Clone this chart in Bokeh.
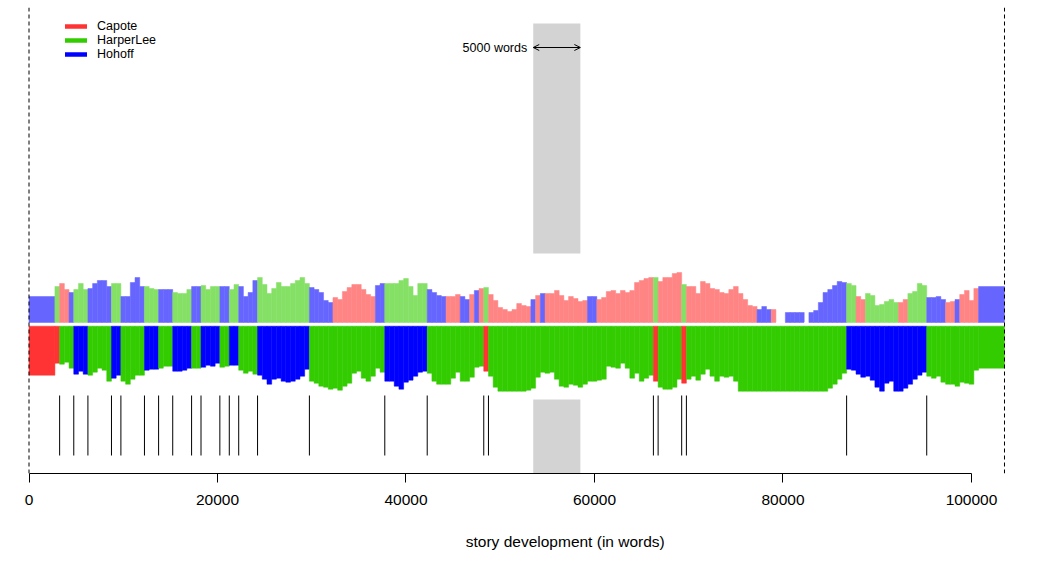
import numpy as np
from bokeh.plotting import figure
from bokeh.models import (ColumnDataSource, Range1d, FixedTicker, PrintfTickFormatter,
                          Span, Label, Arrow, OpenHead, Legend, LegendItem, LinearAxis)
from bokeh.embed import file_html
from bokeh.resources import INLINE

# ---------------- data ----------------
authors = {"C": "Capote", "H": "HarperLee", "W": "Hohoff"}
legend_order = ["C", "H", "W"]
text_length = 103500          # words
slice_size = 5000
slice_step = 500
first_mid = 2500
x_ticks = [0, 20000, 40000, 60000, 80000, 100000]
x_title = "story development (in words)"
marked_slice = [53500, 58500]
marked_text = "5000 words"

# first-ranked candidate per slice (C = Capote, H = HarperLee, W = Hohoff)
first_choice = ("CCHHHWWWHH" "HHHWWHHHHH" "WWWHHHWWWW" "HHWWWWHHWW" "HHHHWWWWWW"
                "WWWWWHHHHH" "HHHHHHHHHH" "HWWWWWWWWW" "HHHHHHHHHH" "HHCHHHHHHH"
                "HHHHHHHHHH" "HHHHHHHHHH" "HHHHHHHHCH" "HHHHCHHHHH" "HHHHHHHHHH"
                "HHHHHHHHHH" "HHHHHHHHHW" "WWWWWWWWWW" "WWWWWWHHHH" "HHHHHHHH")
# second-ranked candidate per slice ("-" = none)
second_choice = ("WHCCWHHHWW" "WWWHHWWWWW" "HHHWWWHHHH" "WWHHHHWWHH" "WWWWHHHHHH"
                 "HHHHHWWWWW" "CCCCCCCCCW" "WHHHHHHHHH" "WWWWCCCWWC" "WCHCCCCCCC"
                 "CCWCWCCCCC" "CCCCWWCCCC" "CCCCCCCCHC" "CCCCHCCCCC" "CCCCCCCCCC"
                 "WWWC--WWWW" "-WWWWWWWWH" "HCCHHHHHHH" "CCHHHHWWWW" "CCWCCCCW")
# strength of the first choice (drawn downwards)
first_score = [49, 37, 38, 36, 42, 48, 45, 48, 49, 46,
               42, 44, 55, 52, 49, 55, 58, 53, 49, 49,
               44, 43, 43, 42, 40, 40, 45, 45, 44, 42,
               42, 42, 41, 39, 40, 37, 41, 40, 39, 39,
               44, 47, 45, 48, 49, 53, 58, 53, 52, 55,
               56, 55, 53, 50, 43, 55, 57, 60, 61, 63,
               62, 64, 60, 57, 47, 45, 52, 55, 50, 42,
               46, 55, 55, 60, 63, 56, 54, 50, 46, 45,
               47, 55, 58, 58, 58, 52, 46, 55, 55, 51,
               41, 40, 45, 50, 61, 65, 65, 65, 65, 65,
               65, 64, 62, 51, 46, 47, 46, 53, 60, 61,
               58, 59, 61, 58, 55, 55, 54, 53, 40, 41,
               42, 37, 42, 52, 47, 55, 52, 49, 55, 61,
               63, 63, 61, 53, 57, 53, 50, 54, 48, 43,
               50, 55, 50, 51, 50, 55, 65, 65, 65, 65,
               65, 65, 65, 65, 65, 65, 65, 65, 65, 65,
               65, 65, 65, 65, 65, 62, 58, 53, 47, 43,
               44, 48, 51, 50, 54, 61, 65, 57, 55, 65,
               65, 62, 58, 53, 49, 46, 50, 52, 50, 56,
               58, 58, 60, 56, 57, 58, 44, 42]
# strength of the second choice (drawn upwards)
second_score = [26, 36, 39, 33, 30, 33, 39, 33, 34, 39,
                42, 42, 36, 39, 39, 26, 26, 40, 45, 36,
                36, 34, 33, 33, 33, 33, 30, 29, 29, 33,
                36, 36, 37, 33, 36, 36, 36, 36, 33, 38,
                36, 26, 30, 42, 45, 38, 29, 34, 40, 36,
                36, 39, 42, 45, 39, 35, 33, 30, 22, 20,
                25, 23, 31, 35, 38, 38, 33, 28, 26, 37,
                39, 39, 39, 39, 42, 44, 36, 27, 39, 39,
                33, 30, 27, 26, 26, 26, 28, 26, 23, 28,
                32, 34, 35, 28, 22, 15, 13, 11, 13, 19,
                17, 16, 23, 27, 29, 29, 29, 32, 27, 22,
                26, 24, 21, 22, 26, 26, 23, 25, 31, 32,
                29, 32, 30, 32, 40, 42, 44, 45, 45, 41,
                45, 45, 49, 50, 38, 36, 36, 29, 41, 39,
                34, 33, 30, 29, 33, 36, 29, 23, 17, 16,
                13, 16, 13, 13, 0, 0, 10, 10, 10, 10,
                0, 10, 12, 20, 30, 33, 37, 41, 40, 39,
                37, 26, 23, 29, 27, 17, 18, 21, 23, 20,
                20, 23, 29, 31, 39, 37, 25, 25, 26, 23,
                20, 21, 23, 28, 32, 22, 34, 36]

# ---------------- styles ----------------
solid = {"C": "#FF3333", "H": "#33CC00", "W": "#0000FF"}
light = {"C": "#FF8585", "H": "#85E066", "W": "#6666FF", "-": "#FFFFFF"}
FONT = "Liberation Sans"
STRIP_TOP = -3.7
TICK_Y0, TICK_Y1 = -73, -133
TITLE_CENTER = 56900   # horizontal centre of the x title (R plot-region centre)

n = len(first_choice)
mids = first_mid + slice_step * np.arange(n)
left = mids - slice_step / 2
right = mids + slice_step / 2
left[0] = 0
right[-1] = text_length

first = list(first_choice)
second = list(second_choice)

p = figure(width=1038, height=563, output_backend="svg", toolbar_location=None,
           x_range=Range1d(-902, 107109), y_range=Range1d(-151, 315),
           y_axis_location=None,
           min_border_left=20, min_border_right=0, min_border_top=7, min_border_bottom=90)
p.outline_line_color = None
p.xgrid.visible = False
p.ygrid.visible = False
p.background_fill_color = "white"

# grey window showing the slice size
p.quad(left=[marked_slice[0]] * 2, right=[marked_slice[1]] * 2,
       top=[299, -77], bottom=[69, -151], fill_color="#D3D3D3", line_color=None)

# upper bars: second choice
up = ColumnDataSource(dict(left=left, right=right,
                           top=np.array(second_score, dtype=float),
                           bottom=np.zeros(n),
                           color=[light[c] for c in second]))
p.quad(left="left", right="right", top="top", bottom="bottom", source=up,
       fill_color="color", line_color="color", line_width=0.5)

# middle/lower bars: first choice
dn = ColumnDataSource(dict(left=left, right=right,
                           top=np.full(n, STRIP_TOP),
                           bottom=STRIP_TOP - np.array(first_score, dtype=float),
                           color=[solid[c] for c in first]))
p.quad(left="left", right="right", top="top", bottom="bottom", source=dn,
       fill_color="color", line_color="color", line_width=0.5)

# change points of the first choice
chg = [left[k] for k in range(1, n) if first[k] != first[k - 1]]
p.segment(x0=chg, y0=[TICK_Y0] * len(chg), x1=chg, y1=[TICK_Y1] * len(chg),
          line_color="black", line_width=1)

# text start / end
for loc in (0, text_length):
    p.add_layout(Span(location=loc, dimension="height", line_color="black",
                      line_width=1, line_dash="4 3"))

# slice size annotation
p.add_layout(Arrow(start=OpenHead(size=6, line_width=1), end=OpenHead(size=6, line_width=1),
                   x_start=marked_slice[0], y_start=275, x_end=marked_slice[1], y_end=275,
                   line_width=1, line_color="black"))
p.add_layout(Label(x=marked_slice[0], y=275, text=marked_text, text_align="right",
                   text_baseline="middle", x_offset=-6, text_font=FONT,
                   text_font_size="12.5px", text_color="black"))

# main axis
ax = p.xaxis[0]
ax.ticker = FixedTicker(ticks=x_ticks)
ax.formatter = PrintfTickFormatter(format="%d")
ax.bounds = (x_ticks[0], x_ticks[-1])
ax.major_tick_out = 9
ax.major_tick_in = 0
ax.minor_tick_out = 0
ax.minor_tick_in = 0
ax.axis_line_color = "black"
ax.major_tick_line_color = "black"
ax.major_label_text_font = FONT
ax.major_label_text_font_size = "15.5px"
ax.major_label_text_color = "black"
ax.major_label_standoff = 12

# title axis: carries only the x title, centred like R's plot region
tax = LinearAxis(ticker=FixedTicker(ticks=[TITLE_CENTER]),
                 major_label_overrides={TITLE_CENTER: x_title},
                 axis_line_color=None, major_tick_line_color=None,
                 major_tick_out=0, major_tick_in=0,
                 minor_tick_out=0, minor_tick_in=0, major_label_standoff=25,
                 major_label_text_font=FONT, major_label_text_font_size="15.5px",
                 major_label_text_color="black")
p.add_layout(tax, "below")

# legend
items = []
for c in legend_order:
    r = p.line(x=[np.nan], y=[np.nan], line_color=solid[c], line_width=4.5, line_cap="round")
    items.append(LegendItem(label=authors[c], renderers=[r]))
leg = Legend(items=items, location=(45, 412), orientation="vertical",
             glyph_width=22, glyph_height=14, label_height=14, label_standoff=10,
             spacing=0, padding=0, margin=0, border_line_color=None,
             background_fill_alpha=0, label_text_font=FONT,
             label_text_font_size="12.5px", label_text_color="black")
p.add_layout(leg)

open("out.html", "w").write(file_html(p, INLINE))
